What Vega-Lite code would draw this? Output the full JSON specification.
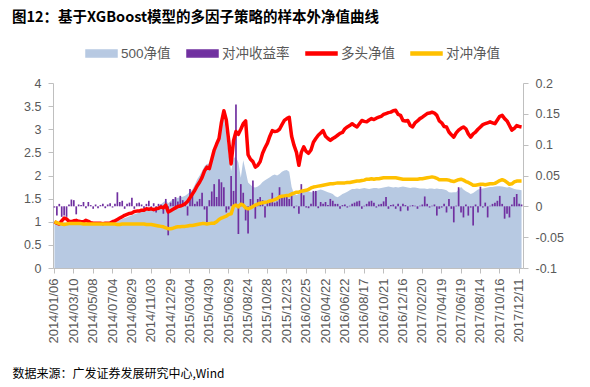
{
"$schema": "https://vega.github.io/schema/vega-lite/v6.json",
"width": 470, "height": 185,
"autosize": {"type": "none"},
"padding": {"left": 53, "top": 83, "right": 67, "bottom": 119},
"background": "white",
"config": {"view": {"stroke": null}, "font": "Liberation Sans"},
"title": {"text": "图12：基于XGBoost模型的多因子策略的样本外净值曲线", "anchor": "start", "frame": "group", "font": "Noto Sans CJK SC", "fontSize": 14.5, "fontWeight": "bold", "color": "#000000", "dx": -41, "offset": 12},
"data": {"values": [
{"d":"2014/01/06","a":1.00,"r":-0.002,"l":1.00,"h":1.00},
{"d":"2014/01/13","a":0.99,"r":-0.015,"l":0.97,"h":0.98},
{"d":"2014/01/20","a":0.97,"r":0.004,"l":0.95,"h":0.96},
{"d":"2014/01/27","a":0.98,"r":-0.017,"l":1.02,"h":0.95},
{"d":"2014/02/03","a":0.99,"r":-0.015,"l":1.08,"h":0.94},
{"d":"2014/02/10","a":0.97,"r":-0.017,"l":1.06,"h":0.95},
{"d":"2014/02/17","a":0.96,"r":0.003,"l":1.01,"h":0.96},
{"d":"2014/02/24","a":0.96,"r":0.011,"l":1.00,"h":0.96},
{"d":"2014/03/10","a":0.97,"r":0.010,"l":1.02,"h":0.96},
{"d":"2014/03/17","a":0.96,"r":-0.013,"l":1.03,"h":0.96},
{"d":"2014/03/24","a":0.95,"r":0.003,"l":1.01,"h":0.96},
{"d":"2014/03/31","a":0.95,"r":0.002,"l":1.00,"h":0.96},
{"d":"2014/04/07","a":0.96,"r":0.007,"l":1.00,"h":0.95},
{"d":"2014/04/14","a":0.96,"r":-0.003,"l":1.03,"h":0.95},
{"d":"2014/04/21","a":0.95,"r":0.007,"l":1.01,"h":0.95},
{"d":"2014/04/28","a":0.94,"r":0.002,"l":0.98,"h":0.95},
{"d":"2014/05/08","a":0.94,"r":-0.004,"l":0.97,"h":0.95},
{"d":"2014/05/15","a":0.95,"r":0.003,"l":0.97,"h":0.95},
{"d":"2014/05/22","a":0.94,"r":-0.003,"l":0.97,"h":0.95},
{"d":"2014/05/29","a":0.95,"r":0.002,"l":0.97,"h":0.95},
{"d":"2014/06/05","a":0.95,"r":0.004,"l":0.96,"h":0.95},
{"d":"2014/06/12","a":0.96,"r":-0.003,"l":0.97,"h":0.95},
{"d":"2014/06/19","a":0.96,"r":0.003,"l":0.97,"h":0.95},
{"d":"2014/06/26","a":0.97,"r":0.005,"l":0.97,"h":0.95},
{"d":"2014/07/04","a":0.98,"r":-0.002,"l":1.00,"h":0.95},
{"d":"2014/07/11","a":0.99,"r":0.004,"l":1.02,"h":0.95},
{"d":"2014/07/18","a":1.01,"r":0.023,"l":1.05,"h":0.94},
{"d":"2014/07/25","a":1.03,"r":0.007,"l":1.08,"h":0.94},
{"d":"2014/08/01","a":1.06,"r":0.009,"l":1.11,"h":0.95},
{"d":"2014/08/08","a":1.08,"r":-0.004,"l":1.14,"h":0.95},
{"d":"2014/08/15","a":1.10,"r":0.004,"l":1.16,"h":0.95},
{"d":"2014/08/22","a":1.12,"r":0.006,"l":1.18,"h":0.95},
{"d":"2014/08/29","a":1.14,"r":0.014,"l":1.19,"h":0.95},
{"d":"2014/09/05","a":1.16,"r":-0.004,"l":1.22,"h":0.95},
{"d":"2014/09/12","a":1.18,"r":0.005,"l":1.23,"h":0.95},
{"d":"2014/09/19","a":1.20,"r":0.006,"l":1.23,"h":0.95},
{"d":"2014/09/26","a":1.21,"r":0.003,"l":1.25,"h":0.95},
{"d":"2014/10/10","a":1.23,"r":-0.004,"l":1.25,"h":0.95},
{"d":"2014/10/17","a":1.25,"r":0.004,"l":1.28,"h":0.94},
{"d":"2014/10/24","a":1.27,"r":0.009,"l":1.27,"h":0.94},
{"d":"2014/11/03","a":1.28,"r":-0.003,"l":1.28,"h":0.94},
{"d":"2014/11/10","a":1.30,"r":0.005,"l":1.26,"h":0.93},
{"d":"2014/11/17","a":1.32,"r":-0.010,"l":1.28,"h":0.92},
{"d":"2014/11/24","a":1.34,"r":0.004,"l":1.29,"h":0.91},
{"d":"2014/12/01","a":1.38,"r":0.003,"l":1.32,"h":0.90},
{"d":"2014/12/08","a":1.42,"r":-0.012,"l":1.30,"h":0.89},
{"d":"2014/12/15","a":1.46,"r":0.012,"l":1.36,"h":0.87},
{"d":"2014/12/22","a":1.40,"r":-0.047,"l":1.21,"h":0.85},
{"d":"2014/12/29","a":1.45,"r":0.006,"l":1.24,"h":0.85},
{"d":"2015/01/05","a":1.48,"r":0.012,"l":1.27,"h":0.86},
{"d":"2015/01/12","a":1.50,"r":0.015,"l":1.30,"h":0.88},
{"d":"2015/01/19","a":1.52,"r":0.008,"l":1.33,"h":0.89},
{"d":"2015/01/26","a":1.53,"r":0.017,"l":1.34,"h":0.89},
{"d":"2015/02/02","a":1.54,"r":0.010,"l":1.36,"h":0.90},
{"d":"2015/02/09","a":1.56,"r":0.006,"l":1.39,"h":0.90},
{"d":"2015/02/16","a":1.60,"r":-0.015,"l":1.44,"h":0.91},
{"d":"2015/03/04","a":1.65,"r":0.028,"l":1.52,"h":0.92},
{"d":"2015/03/11","a":1.70,"r":0.020,"l":1.60,"h":0.92},
{"d":"2015/03/18","a":1.80,"r":0.004,"l":1.68,"h":0.93},
{"d":"2015/03/25","a":1.92,"r":0.008,"l":1.78,"h":0.94},
{"d":"2015/04/01","a":2.00,"r":0.012,"l":1.86,"h":0.95},
{"d":"2015/04/08","a":2.10,"r":0.022,"l":1.96,"h":0.96},
{"d":"2015/04/15","a":2.20,"r":-0.005,"l":2.10,"h":0.96},
{"d":"2015/04/22","a":2.25,"r":-0.026,"l":2.18,"h":0.95},
{"d":"2015/04/30","a":2.26,"r":0.010,"l":2.15,"h":0.96},
{"d":"2015/05/07","a":2.30,"r":0.024,"l":2.35,"h":0.97},
{"d":"2015/05/14","a":2.48,"r":0.036,"l":2.55,"h":0.97},
{"d":"2015/05/21","a":2.60,"r":0.015,"l":2.68,"h":1.00},
{"d":"2015/05/28","a":2.80,"r":0.044,"l":2.80,"h":1.05},
{"d":"2015/06/04","a":3.10,"r":0.039,"l":3.15,"h":1.08},
{"d":"2015/06/11","a":3.25,"r":0.031,"l":3.40,"h":1.10},
{"d":"2015/06/18","a":2.90,"r":-0.010,"l":3.20,"h":1.12},
{"d":"2015/06/29","a":2.45,"r":-0.005,"l":2.75,"h":1.16},
{"d":"2015/07/06","a":2.10,"r":0.049,"l":2.25,"h":1.17},
{"d":"2015/07/13","a":2.38,"r":0.025,"l":2.75,"h":1.34},
{"d":"2015/07/20","a":2.40,"r":0.165,"l":2.95,"h":1.36},
{"d":"2015/07/27","a":2.28,"r":-0.045,"l":2.89,"h":1.32},
{"d":"2015/08/03","a":1.95,"r":0.036,"l":3.00,"h":1.38},
{"d":"2015/08/10","a":2.33,"r":0.022,"l":3.12,"h":1.36},
{"d":"2015/08/17","a":2.10,"r":-0.023,"l":3.18,"h":1.30},
{"d":"2015/08/24","a":1.85,"r":-0.044,"l":2.45,"h":1.28},
{"d":"2015/08/31","a":1.80,"r":0.012,"l":2.35,"h":1.30},
{"d":"2015/09/07","a":1.75,"r":0.042,"l":2.30,"h":1.33},
{"d":"2015/09/14","a":1.74,"r":-0.020,"l":2.18,"h":1.36},
{"d":"2015/09/21","a":1.76,"r":0.012,"l":2.22,"h":1.38},
{"d":"2015/09/28","a":1.80,"r":0.015,"l":2.30,"h":1.40},
{"d":"2015/10/12","a":1.86,"r":0.010,"l":2.48,"h":1.41},
{"d":"2015/10/19","a":1.90,"r":-0.018,"l":2.60,"h":1.42},
{"d":"2015/10/28","a":1.93,"r":0.008,"l":2.70,"h":1.43},
{"d":"2015/11/04","a":1.96,"r":0.008,"l":2.85,"h":1.45},
{"d":"2015/11/11","a":2.00,"r":0.022,"l":2.97,"h":1.46},
{"d":"2015/11/18","a":2.02,"r":0.006,"l":2.95,"h":1.48},
{"d":"2015/11/25","a":2.00,"r":0.008,"l":2.96,"h":1.50},
{"d":"2015/12/02","a":2.03,"r":0.031,"l":3.00,"h":1.54},
{"d":"2015/12/09","a":2.08,"r":0.017,"l":3.10,"h":1.55},
{"d":"2015/12/16","a":2.11,"r":0.015,"l":3.19,"h":1.56},
{"d":"2015/12/23","a":2.12,"r":0.017,"l":3.23,"h":1.57},
{"d":"2015/12/30","a":2.08,"r":0.012,"l":3.26,"h":1.57},
{"d":"2016/01/06","a":1.75,"r":0.017,"l":2.85,"h":1.60},
{"d":"2016/01/13","a":1.60,"r":-0.003,"l":2.65,"h":1.62},
{"d":"2016/01/20","a":1.58,"r":0.001,"l":2.50,"h":1.64},
{"d":"2016/01/27","a":1.60,"r":-0.012,"l":2.22,"h":1.64},
{"d":"2016/02/03","a":1.62,"r":0.036,"l":2.50,"h":1.66},
{"d":"2016/02/17","a":1.65,"r":0.018,"l":2.62,"h":1.67},
{"d":"2016/02/25","a":1.68,"r":-0.002,"l":2.52,"h":1.68},
{"d":"2016/03/03","a":1.66,"r":-0.003,"l":2.48,"h":1.70},
{"d":"2016/03/10","a":1.64,"r":0.004,"l":2.55,"h":1.73},
{"d":"2016/03/17","a":1.64,"r":0.025,"l":2.72,"h":1.75},
{"d":"2016/03/24","a":1.66,"r":0.025,"l":2.80,"h":1.76},
{"d":"2016/03/31","a":1.68,"r":-0.003,"l":2.87,"h":1.77},
{"d":"2016/04/07","a":1.70,"r":0.007,"l":2.92,"h":1.78},
{"d":"2016/04/14","a":1.68,"r":0.004,"l":2.97,"h":1.79},
{"d":"2016/04/22","a":1.66,"r":0.007,"l":2.85,"h":1.80},
{"d":"2016/04/29","a":1.64,"r":0.002,"l":2.80,"h":1.81},
{"d":"2016/05/06","a":1.62,"r":0.012,"l":2.76,"h":1.82},
{"d":"2016/05/13","a":1.60,"r":0.009,"l":2.80,"h":1.82},
{"d":"2016/05/20","a":1.55,"r":0.004,"l":2.83,"h":1.83},
{"d":"2016/05/27","a":1.53,"r":0.004,"l":2.87,"h":1.84},
{"d":"2016/06/03","a":1.56,"r":-0.004,"l":2.91,"h":1.84},
{"d":"2016/06/10","a":1.60,"r":0.002,"l":2.93,"h":1.84},
{"d":"2016/06/22","a":1.62,"r":0.003,"l":3.01,"h":1.84},
{"d":"2016/06/29","a":1.65,"r":-0.002,"l":3.05,"h":1.85},
{"d":"2016/07/06","a":1.68,"r":0.001,"l":3.08,"h":1.85},
{"d":"2016/07/13","a":1.71,"r":0.004,"l":3.12,"h":1.86},
{"d":"2016/07/20","a":1.71,"r":0.006,"l":3.08,"h":1.87},
{"d":"2016/07/27","a":1.72,"r":0.008,"l":3.05,"h":1.88},
{"d":"2016/08/03","a":1.71,"r":0.009,"l":3.12,"h":1.88},
{"d":"2016/08/10","a":1.72,"r":-0.004,"l":3.19,"h":1.89},
{"d":"2016/08/17","a":1.73,"r":0.001,"l":3.17,"h":1.90},
{"d":"2016/08/24","a":1.72,"r":0.004,"l":3.16,"h":1.92},
{"d":"2016/08/31","a":1.71,"r":0.008,"l":3.20,"h":1.92},
{"d":"2016/09/07","a":1.72,"r":0.009,"l":3.23,"h":1.93},
{"d":"2016/09/14","a":1.73,"r":0.006,"l":3.21,"h":1.92},
{"d":"2016/09/21","a":1.73,"r":-0.002,"l":3.24,"h":1.93},
{"d":"2016/09/28","a":1.72,"r":0.003,"l":3.26,"h":1.93},
{"d":"2016/10/12","a":1.73,"r":0.004,"l":3.28,"h":1.94},
{"d":"2016/10/21","a":1.74,"r":0.008,"l":3.32,"h":1.95},
{"d":"2016/10/28","a":1.75,"r":0.015,"l":3.34,"h":1.95},
{"d":"2016/11/04","a":1.76,"r":-0.004,"l":3.36,"h":1.95},
{"d":"2016/11/11","a":1.75,"r":0.002,"l":3.37,"h":1.95},
{"d":"2016/11/18","a":1.74,"r":0.003,"l":3.40,"h":1.95},
{"d":"2016/11/25","a":1.75,"r":-0.004,"l":3.41,"h":1.95},
{"d":"2016/12/02","a":1.74,"r":0.004,"l":3.32,"h":1.94},
{"d":"2016/12/09","a":1.75,"r":-0.008,"l":3.30,"h":1.93},
{"d":"2016/12/16","a":1.76,"r":0.004,"l":3.19,"h":1.92},
{"d":"2016/12/23","a":1.75,"r":0.002,"l":3.18,"h":1.92},
{"d":"2016/12/30","a":1.74,"r":-0.007,"l":3.19,"h":1.92},
{"d":"2017/01/06","a":1.73,"r":0.001,"l":3.08,"h":1.92},
{"d":"2017/01/13","a":1.74,"r":0.002,"l":3.05,"h":1.92},
{"d":"2017/01/20","a":1.74,"r":0.001,"l":3.14,"h":1.92},
{"d":"2017/01/27","a":1.73,"r":-0.004,"l":3.18,"h":1.92},
{"d":"2017/02/10","a":1.72,"r":0.001,"l":3.23,"h":1.93},
{"d":"2017/02/20","a":1.72,"r":0.003,"l":3.26,"h":1.93},
{"d":"2017/02/27","a":1.72,"r":0.016,"l":3.30,"h":1.94},
{"d":"2017/03/06","a":1.71,"r":0.004,"l":3.34,"h":1.95},
{"d":"2017/03/13","a":1.72,"r":-0.002,"l":3.35,"h":1.96},
{"d":"2017/03/20","a":1.72,"r":0.001,"l":3.37,"h":1.97},
{"d":"2017/03/27","a":1.71,"r":0.003,"l":3.35,"h":1.96},
{"d":"2017/04/03","a":1.72,"r":-0.015,"l":3.30,"h":1.94},
{"d":"2017/04/11","a":1.71,"r":-0.004,"l":3.18,"h":1.91},
{"d":"2017/04/19","a":1.71,"r":-0.002,"l":3.14,"h":1.91},
{"d":"2017/04/26","a":1.70,"r":0.004,"l":3.06,"h":1.91},
{"d":"2017/05/03","a":1.68,"r":-0.010,"l":3.05,"h":1.91},
{"d":"2017/05/10","a":1.64,"r":0.012,"l":2.94,"h":1.90},
{"d":"2017/05/17","a":1.63,"r":-0.004,"l":2.88,"h":1.88},
{"d":"2017/05/24","a":1.64,"r":-0.026,"l":2.83,"h":1.87},
{"d":"2017/05/31","a":1.64,"r":0.001,"l":2.92,"h":1.89},
{"d":"2017/06/07","a":1.70,"r":0.031,"l":2.98,"h":1.91},
{"d":"2017/06/19","a":1.75,"r":-0.010,"l":3.02,"h":1.92},
{"d":"2017/06/26","a":1.70,"r":-0.018,"l":3.05,"h":1.90},
{"d":"2017/07/03","a":1.66,"r":0.003,"l":3.01,"h":1.87},
{"d":"2017/07/10","a":1.63,"r":-0.015,"l":2.90,"h":1.85},
{"d":"2017/07/17","a":1.60,"r":-0.002,"l":2.83,"h":1.82},
{"d":"2017/07/24","a":1.62,"r":-0.031,"l":2.90,"h":1.79},
{"d":"2017/07/31","a":1.66,"r":0.003,"l":2.94,"h":1.79},
{"d":"2017/08/07","a":1.70,"r":-0.010,"l":3.00,"h":1.80},
{"d":"2017/08/14","a":1.71,"r":0.032,"l":3.05,"h":1.81},
{"d":"2017/08/21","a":1.72,"r":-0.002,"l":3.10,"h":1.81},
{"d":"2017/08/28","a":1.73,"r":0.006,"l":3.12,"h":1.80},
{"d":"2017/09/04","a":1.74,"r":-0.018,"l":3.14,"h":1.81},
{"d":"2017/09/11","a":1.75,"r":0.001,"l":3.16,"h":1.82},
{"d":"2017/09/18","a":1.75,"r":0.004,"l":3.14,"h":1.82},
{"d":"2017/09/25","a":1.76,"r":0.006,"l":3.12,"h":1.83},
{"d":"2017/10/09","a":1.77,"r":0.009,"l":3.20,"h":1.86},
{"d":"2017/10/16","a":1.77,"r":0.017,"l":3.28,"h":1.89},
{"d":"2017/10/23","a":1.76,"r":0.004,"l":3.30,"h":1.91},
{"d":"2017/10/30","a":1.75,"r":-0.020,"l":3.23,"h":1.89},
{"d":"2017/11/06","a":1.74,"r":-0.012,"l":3.18,"h":1.85},
{"d":"2017/11/13","a":1.75,"r":-0.018,"l":3.08,"h":1.81},
{"d":"2017/11/20","a":1.73,"r":0.003,"l":2.98,"h":1.82},
{"d":"2017/11/27","a":1.71,"r":0.015,"l":3.02,"h":1.86},
{"d":"2017/12/04","a":1.70,"r":0.020,"l":3.08,"h":1.88},
{"d":"2017/12/11","a":1.69,"r":0.004,"l":3.06,"h":1.88},
{"d":"2017/12/18","a":1.68,"r":0.003,"l":3.05,"h":1.88}
]},
"encoding": {
  "x": {"field": "d", "type": "ordinal", "sort": null,
    "scale": {"paddingInner": 0.3, "paddingOuter": 0.25},
    "axis": {
      "values": ["2014/01/06","2014/03/10","2014/05/08","2014/07/04","2014/08/29","2014/11/03","2014/12/29","2015/03/04","2015/04/30","2015/06/29","2015/08/24","2015/10/28","2015/12/23","2016/02/25","2016/04/22","2016/06/22","2016/08/17","2016/10/21","2016/12/16","2017/02/20","2017/04/19","2017/06/19","2017/08/14","2017/10/16","2017/12/11"],
      "labelAngle": 270, "labelFont": "Liberation Sans", "labelFontSize": 13, "labelColor": "#595959",
      "labelPadding": 5, "labelOverlap": false, "labelBound": false, "labelFlush": false,
      "domainColor": "#BFBFBF", "tickColor": "#BFBFBF", "tickSize": 5, "grid": false,
      "title": "数据来源：广发证券发展研究中心,Wind",
      "titleFont": "Noto Sans CJK SC", "titleFontSize": 12, "titleFontWeight": "normal", "titleColor": "#000000",
      "titleAnchor": "start", "titleAlign": "left", "titleBaseline": "middle", "titleX": -41, "titleY": 105
    }
  }
},
"layer": [
  {
    "mark": {"type": "area", "interpolate": "linear"},
    "encoding": {
      "y": {"field": "a", "type": "quantitative", "scale": {"domain": [0, 4], "nice": false},
        "axis": {"orient": "left", "values": [0,0.5,1,1.5,2,2.5,3,3.5,4], "labelExpr": "'' + datum.value", "title": null, "grid": false,
          "labelFont": "Liberation Sans", "labelFontSize": 12.5, "labelColor": "#595959", "labelPadding": 7,
          "domainColor": "#BFBFBF", "tickColor": "#BFBFBF", "tickSize": 5}},
      "color": {"datum": "500净值", "type": "nominal",
        "scale": {"domain": ["500净值", "对冲收益率", "多头净值", "对冲净值"], "range": ["#B7C9E2", "#7030A0", "#FF0000", "#FFC000"]},
        "legend": {"orient": "none", "legendX": 32, "legendY": -46, "direction": "horizontal", "title": null,
          "symbolSize": 961, "labelFont": "Liberation Sans, Noto Sans CJK SC", "labelFontSize": 13.5, "labelColor": "#595959",
          "labelOffset": 3, "columnPadding": 13,
          "encode": {"symbols": {"update": {
            "shape": {"signal": "datum.value === '多头净值' || datum.value === '对冲净值' ? 'M-1,-0.1H1V0.1H-1Z' : 'M-1,-0.22H1V0.22H-1Z'"},
            "fill": {"signal": "datum.value === '对冲收益率' ? '#10105E' : scale('color', datum.value)"},
            "stroke": {"signal": "datum.value === '对冲收益率' ? '#7030A0' : 'transparent'"},
            "strokeWidth": {"value": 1.5},
            "opacity": {"value": 1}
          }}}}
      }
    }
  },
  {
    "mark": {"type": "bar"},
    "encoding": {
      "y": {"field": "r", "type": "quantitative", "scale": {"domain": [-0.1, 0.2], "nice": false},
        "axis": {"orient": "right", "values": [-0.1,-0.05,0,0.05,0.1,0.15,0.2], "labelExpr": "'' + datum.value", "title": null, "grid": false,
          "labelFont": "Liberation Sans", "labelFontSize": 12.5, "labelColor": "#595959", "labelPadding": 7,
          "domainColor": "#BFBFBF", "tickColor": "#BFBFBF", "tickSize": 5}},
      "color": {"datum": "对冲收益率", "type": "nominal"}
    }
  },
  {
    "mark": {"type": "line", "strokeWidth": 3.5, "strokeJoin": "round"},
    "encoding": {
      "y": {"field": "l", "type": "quantitative", "scale": {"domain": [0, 4], "nice": false}, "axis": null},
      "color": {"datum": "多头净值", "type": "nominal"}
    }
  },
  {
    "mark": {"type": "line", "strokeWidth": 3.5, "strokeJoin": "round"},
    "encoding": {
      "y": {"field": "h", "type": "quantitative", "scale": {"domain": [0, 4], "nice": false}, "axis": null},
      "color": {"datum": "对冲净值", "type": "nominal"}
    }
  }
],
"resolve": {"scale": {"y": "independent"}, "axis": {"y": "independent"}}
}
